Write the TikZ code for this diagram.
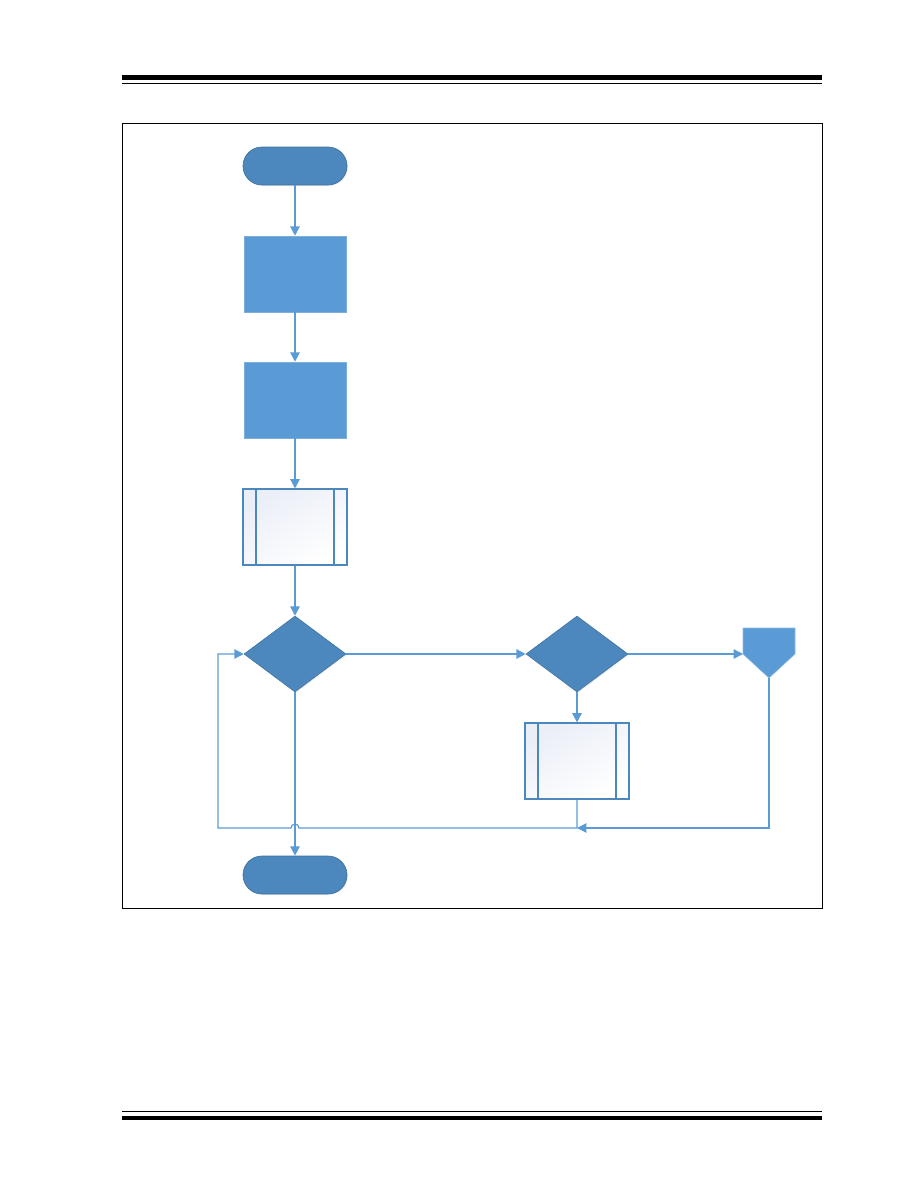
\documentclass[tikz,border=0pt]{standalone}
\usepackage{tikz}
\usetikzlibrary{arrows.meta,shapes.geometric,shadows}

\definecolor{termblue}{RGB}{76,135,189}
\definecolor{termedge}{RGB}{65,113,156}
\definecolor{procblue}{RGB}{91,155,213}
\definecolor{linkblue}{RGB}{91,155,213}
\definecolor{ppshade}{RGB}{234,238,247}

\begin{document}
\begin{tikzpicture}[x=0.75pt, y=-0.75pt, >={Triangle[length=7pt,width=7pt]},
    term/.style={rectangle, rounded corners=14.25pt, draw=termedge, fill=termblue,
               line width=0.5pt, minimum width=78pt, minimum height=28.5pt,
               drop shadow={opacity=0.12, shadow xshift=0.8pt, shadow yshift=-0.8pt}},
    proc/.style={rectangle, draw=procblue!80!white, fill=procblue, line width=0.4pt,
               minimum width=76.5pt, minimum height=57pt,
               drop shadow={opacity=0.12, shadow xshift=0.8pt, shadow yshift=-0.8pt}},
    predef/.style={rectangle, draw=termblue, line width=0.8pt, minimum width=78pt,
               minimum height=57pt, shading=axis, top color=ppshade, bottom color=white,
               shading angle=30,
               path picture={\draw[termblue, line width=0.8pt]
                 ([xshift=9.75pt]path picture bounding box.north west) --
                 ([xshift=9.75pt]path picture bounding box.south west)
                 ([xshift=-9.75pt]path picture bounding box.north east) --
                 ([xshift=-9.75pt]path picture bounding box.south east);}},
    dec/.style={diamond, draw=termedge, fill=termblue, line width=0.4pt, inner sep=0pt,
               aspect=1.34, minimum width=76.5pt, minimum height=57pt,
               drop shadow={opacity=0.12, shadow xshift=0.8pt, shadow yshift=-0.8pt}},
    link/.style={draw=linkblue, line width=1.1pt},
    loop/.style={draw=linkblue, line width=0.9pt}]
  \useasboundingbox (0,0) rectangle (918,1188);
  % page rules and frame
  \fill (122,75) rectangle (822,80);
  \draw[line width=0.75pt] (122,83.3) -- (822,83.3);
  \draw[line width=0.75pt] (122,1111.3) -- (822,1111.3);
  \fill (122,1115.7) rectangle (822,1120);
  \draw[line width=0.65pt] (122,123) rectangle (822,908);

  % main column
  \node[term]   (start) at (295,166) {};
  \node[proc]   (init)  at (295,274) {};
  \node[proc]   (conf)  at (295,400) {};
  \node[predef] (call)  at (295,527) {};
  \node[dec]    (test)  at (295,654) {};
  \node[term]   (stop)  at (295,875) {};
  % right side
  \node[dec]    (check) at (577,654) {};
  \node[predef] (serv)  at (577,761) {};
  % off-page connector
  \filldraw[fill=procblue, draw=procblue!70!white, line width=0.4pt]
    (743,628) -- (795,628) -- (795,654) -- (769,678) -- (743,654) -- cycle;
  \coordinate (offin)  at (743,654);
  \coordinate (offout) at (769,678);
  \coordinate (join)   at (577,828);

  \draw[link, ->] (start) -- (init);
  \draw[link, ->] (init) -- (conf);
  \draw[link, ->] (conf) -- (call);
  \draw[link, ->] (call) -- (test);
  \draw[link, ->] (test) -- (check);
  \draw[link, ->] (check) -- (offin);
  \draw[link, ->] (check) -- (serv);
  \draw[link, ->] (test) -- (stop);
  \draw[loop, ->] (offout) |- (join);
  \draw[loop, ->] (serv.south) -- (join) -- (299,828)
        arc[start angle=0, end angle=180, radius=3pt] -- (218,828) |- (test.west);
\end{tikzpicture}
\end{document}
